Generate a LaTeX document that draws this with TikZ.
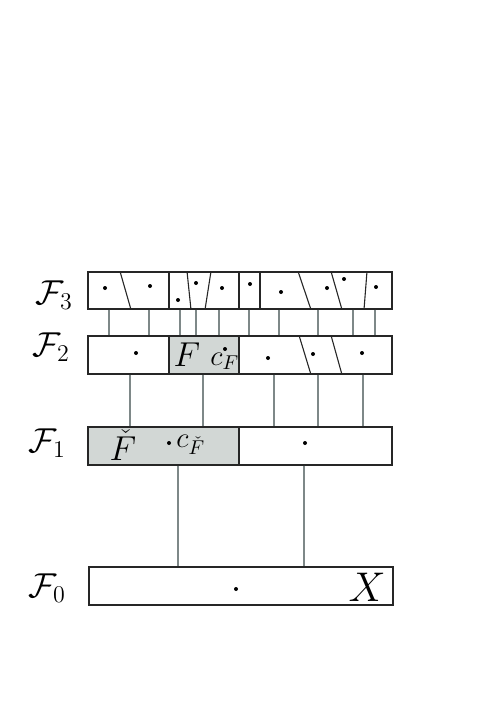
\documentclass[tikz,border=0pt]{standalone}
\usepackage{amsmath}
\usetikzlibrary{fit}
\definecolor{cellgray}{HTML}{D2D7D5}
\definecolor{linkgray}{HTML}{7E8888}

\begin{document}
\begin{tikzpicture}[x=0.5pt,y=-0.5pt,
        rowbox/.style={draw=black!85, line width=0.7pt, inner sep=0pt},
        cut/.style={draw=black!85, line width=0.55pt},
        link/.style={draw=linkgray, line width=0.75pt},
        lvl/.style={inner sep=0pt, anchor=base west, font=\fontsize{18}{22}\selectfont},
        lab/.style={inner sep=0pt, font=\fontsize{17}{20}\selectfont},
        sublab/.style={inner sep=0pt, anchor=base west, font=\fontsize{14}{17}\selectfont}]
                \useasboundingbox (0,0) rectangle (496,701);
                % shaded cells
                \fill[cellgray] (169,336) rectangle (239,374);
                \fill[cellgray] (88,427) rectangle (239,465);
                % rows
                \node[rowbox, fit={(88,272) (392,309)}] (r3) {};
                \node[rowbox, fit={(88,336) (392,374)}] (r2) {};
                \node[rowbox, fit={(88,427) (392,465)}] (r1) {};
                \node[rowbox, fit={(89,567) (393,605)}] (r0) {};
                \node[lvl] (l3) at (35,304) {$\mathcal{F}_3$};
                \node[lvl] (l2) at (32,356) {$\mathcal{F}_2$};
                \node[lvl] (l1) at (28,452) {$\mathcal{F}_1$};
                \node[lvl] (l0) at (28,597) {$\mathcal{F}_0$};
                % cells of F_3
                \foreach \a/\b in {120/131, 169/169, 187/191, 211/205, 239/239,
                                   260/260, 298/311, 331/342, 367/364}
                    \draw[cut] (r3.north -| \a,0) -- (r3.south -| \b,0);
                % cells of F_2 and F_1
                \foreach \a/\b in {169/169, 239/239, 299/311, 331/342}
                    \draw[cut] (r2.north -| \a,0) -- (r2.south -| \b,0);
                \draw[cut] (r1.north -| 239,0) -- (r1.south -| 239,0);
                % links between the levels
                \foreach \x in {109,149,180,196,219,249,279,318,353,375}
                    \draw[link] (r3.south -| \x,0) -- (r2.north -| \x,0);
                \foreach \x in {130,203,274,318,363}
                    \draw[link] (r2.south -| \x,0) -- (r1.north -| \x,0);
                \foreach \x in {178,304}
                    \draw[link] (r1.south -| \x,0) -- (r0.north -| \x,0);
                % centres
                \foreach \x/\y in {105/288, 150/286, 178/300, 196/283, 222/288,
                                   250/284, 281/292, 327/288, 344/279, 376/287,
                                   136/353, 225/349, 268/358, 313/354, 362/353,
                                   169/443, 305/443, 236/589}
                    \fill (\x,\y) circle (1pt);
                \node[lab, anchor=base] (F) at (187,366) {$F$};
                \node[sublab] (cF) at (210,365) {$c_F$};
                \node[lab, anchor=base] (Fc) at (123,460) {$\check{F}$};
                \node[sublab] (cFc) at (176,447) {$c_{\check{F}}$};
                \node[lab, anchor=base, font=\fontsize{20}{24}\selectfont] (X) at (367,601) {$X$};
            \end{tikzpicture}
\end{document}
